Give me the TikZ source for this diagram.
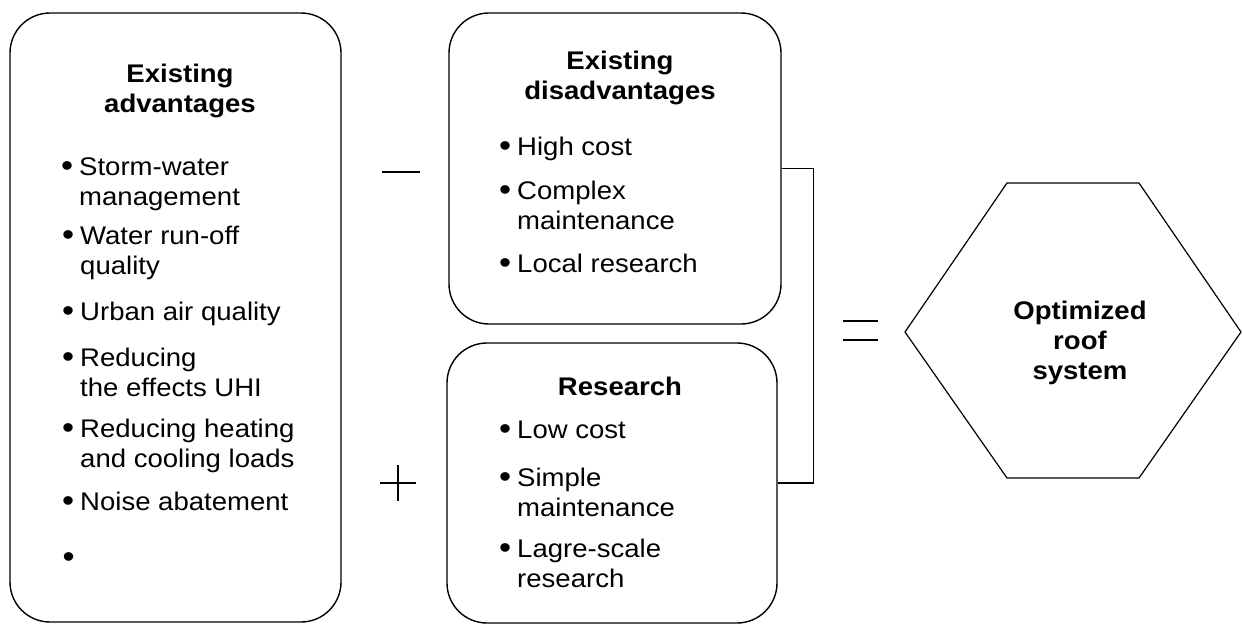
\documentclass[tikz,border=0pt]{standalone}
\usepackage{fontspec}
\setmainfont[FakeStretch=1.08]{Liberation Sans}
\newcommand{\blt}{\llap{\raisebox{-1pt}{\scalebox{1.25}{\textbullet}}\hspace{6pt}}}

\begin{document}
\begin{tikzpicture}[x=1pt, y=-1pt,
    box/.style={draw, line width=1.4pt, rounded corners=40pt, inner sep=0pt},
    title/.style={font=\fontsize{25.5}{30}\selectfont\bfseries, align=center, anchor=base, inner sep=0pt},
    entry/.style={font=\fontsize{25.5}{30}\selectfont, align=left, anchor=base west, inner sep=0pt},
    sign/.style={line width=1.3pt}]
  \useasboundingbox (0,0) rectangle (1243,624);
  % Boxes
  \node[box, minimum width=331pt, minimum height=609pt] (adv) at (175.5,317.5) {};
  \node[box, minimum width=332pt, minimum height=311pt] (dis) at (615,168.5) {};
  \node[box, minimum width=330pt, minimum height=280pt] (res) at (612,483) {};
  % Left box (multi-line nodes sit on their last line)
  \node[title] (advtitle) at (180,112) {Existing\\advantages};
  \node[entry] (storm) at (79,205) {\blt Storm-water\\management};
  \node[entry] (runoff) at (80,274) {\blt Water run-off\\quality};
  \node[entry] (air) at (80,320) {\blt Urban air quality};
  \node[entry] (uhi) at (80,396) {\blt Reducing\\the effects UHI};
  \node[entry] (loads) at (80,467) {\blt Reducing heating\\and cooling loads};
  \node[entry] (noise) at (80,510) {\blt Noise abatement};
  \node[entry] (empty) at (80,566) {\blt};
  % Top middle box
  \node[title] (distitle) at (620,99) {Existing\\disadvantages};
  \node[entry] (high) at (517,155) {\blt High cost};
  \node[entry] (complex) at (517,229) {\blt Complex\\maintenance};
  \node[entry] (local) at (517,272) {\blt Local research};
  % Bottom middle box
  \node[title] (restitle) at (620,395) {Research};
  \node[entry] (low) at (517,438) {\blt Low cost};
  \node[entry] (simple) at (517,516) {\blt Simple\\maintenance};
  \node[entry] (large) at (517,587) {\blt Lagre-scale\\research};
  % Hexagon
  \draw[line width=1.2pt] (1007,183) -- (1139,183) -- (1241,332) -- (1139,478)
    -- (1007,478) -- (905,332) -- cycle;
  \node[title] (opt) at (1080,379) {Optimized\\roof\\system};
  % Bracket
  \draw[line width=1.2pt] (dis.east) -- ++(32,0) |- (res.east);
  % Signs
  \draw[sign] (382,172) -- (420,172);
  \draw[sign] (380,483) -- (416,483) (398,465) -- (398,501);
  \draw[sign] (843,321) -- (878,321) (843,340) -- (878,340);
\end{tikzpicture}
\end{document}
